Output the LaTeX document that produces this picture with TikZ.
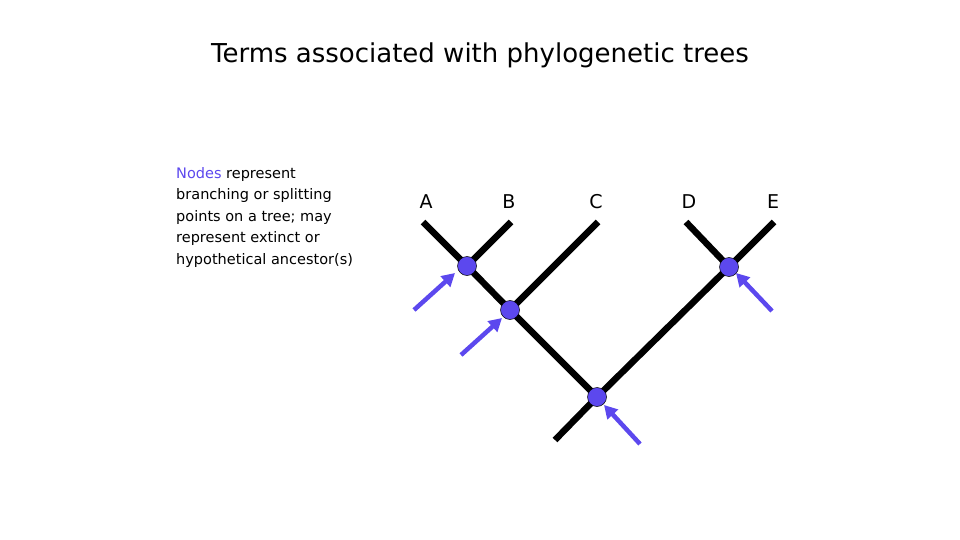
\documentclass[tikz,border=0pt]{standalone}
\usepackage{fontspec}
\setmainfont{DejaVu Sans}
\usetikzlibrary{arrows.meta}
\definecolor{nodeblue}{RGB}{92,72,238}
\begin{document}
\begin{tikzpicture}[x=1pt,y=-1pt,
  branch/.style={line width=6.5pt,black},
  tnode/.style={circle,fill=nodeblue,draw=black,line width=0.5pt,minimum size=19pt,inner sep=0pt},
  ptr/.style={line width=4.5pt,nodeblue,-{Triangle[length=13pt,width=14pt]}},
  lbl/.style={font=\fontsize{19}{19}\selectfont}]
\useasboundingbox (0,0) rectangle (960,540);
\node (title) at (480,55) {\fontsize{26}{26}\selectfont Terms associated with phylogenetic trees};
\node[anchor=north west,align=left,inner sep=0pt,font=\fontsize{14.5}{21.5}\selectfont] (txt) at (176,167)
 {\textcolor{nodeblue}{Nodes} represent\\branching or splitting\\points on a tree; may\\represent extinct or\\hypothetical ancestor(s)};
\foreach \n/\x in {A/426,B/509,C/596,D/689,E/773} \node[lbl] (l\n) at (\x,202) {\n};
\coordinate (tA) at (423,222); \coordinate (tB) at (511,222); \coordinate (tC) at (598,222);
\coordinate (tD) at (686,222); \coordinate (tE) at (774,222); \coordinate (stem) at (555,440);
\coordinate (n1) at (467,266); \coordinate (n2) at (510,310); \coordinate (n3) at (729,267); \coordinate (r) at (597,397);
\draw[branch] (tA) -- (n1) -- (n2) -- (r) -- (stem);
\draw[branch] (tB) -- (n1); \draw[branch] (tC) -- (n2);
\draw[branch] (tD) -- (n3); \draw[branch] (tE) -- (n3) -- (r);
\foreach \c in {n1,n2,n3,r} \node[tnode] (N\c) at (\c) {};
\coordinate (a1) at (414,310); \coordinate (a2) at (461,355); \coordinate (a3) at (640,444); \coordinate (a4) at (772,311);
\coordinate (h1) at (455,273); \coordinate (h2) at (502,318); \coordinate (h3) at (604,405); \coordinate (h4) at (736,273);
\draw[ptr] (a1) -- (h1); \draw[ptr] (a2) -- (h2); \draw[ptr] (a3) -- (h3); \draw[ptr] (a4) -- (h4);
\end{tikzpicture}
\end{document}
